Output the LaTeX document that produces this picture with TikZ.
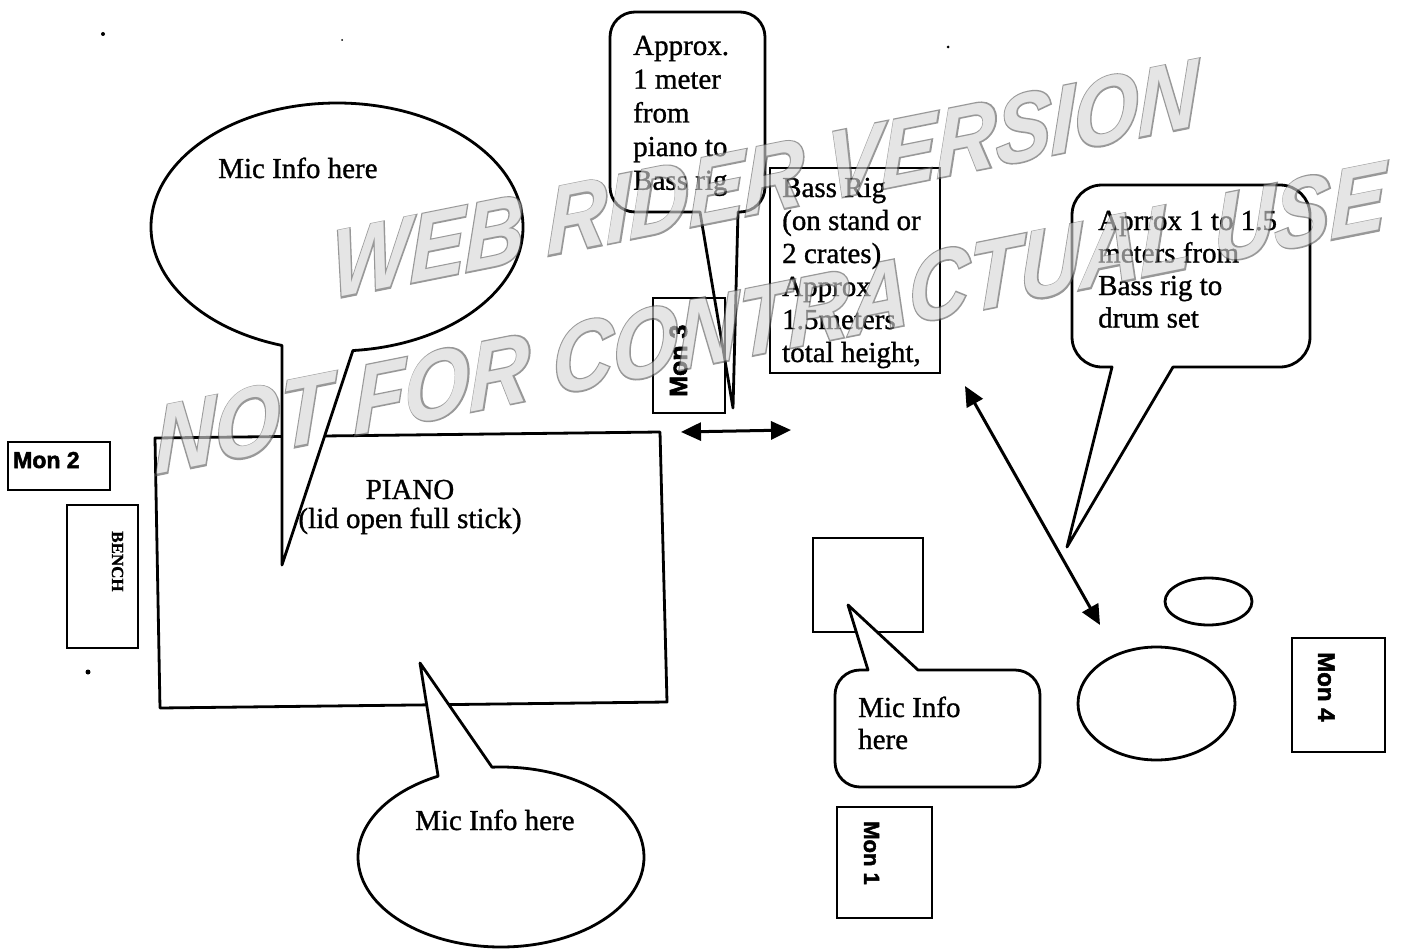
\documentclass[tikz,border=0pt]{standalone}
\usepackage{fontspec}
\setmainfont{Liberation Serif}[FakeBold=1]
\newfontfamily\monfont{Liberation Sans Bold}[FakeBold=2.2]
\newfontfamily\wmfont{Liberation Sans Bold Italic}
\newfontfamily\wmfontb{Liberation Sans Bold Italic}[FakeBold=3]
\newfontfamily\benchfont{Liberation Serif Bold}[FakeBold=1]
\usetikzlibrary{shapes.geometric,arrows.meta}
\definecolor{wmdark}{gray}{0.35}
\definecolor{wmlight}{gray}{0.84}
\newcommand\mlL[1]{\begin{tabular}[t]{@{}l@{}}#1\end{tabular}}
\newcommand\mlC[1]{\begin{tabular}[t]{@{}c@{}}#1\end{tabular}}
\tikzset{
  ln/.style={line width=2.8pt, line join=round},
  bub/.style={ln, draw, fill=white},
  box/.style={draw, line width=2.8pt, rectangle, inner sep=0pt},
  txt/.style={inner sep=0pt, anchor=base west, font=\fontsize{29}{33.5}\selectfont},
  mon/.style={inner sep=0pt, anchor=base west},
  dbl/.style={line width=3pt, {Triangle[length=20pt,width=18pt]}-{Triangle[length=20pt,width=18pt]}},
  wm/.style={inner sep=0pt, anchor=base west, cm={0.85,0.17,0,1,(0,0)}},
}
\begin{document}
\begin{tikzpicture}[x=1pt,y=-1pt]
\useasboundingbox (0,0) rectangle (1408,950);
\fill[white] (0,0) rectangle (1408,950);

% specks
\fill (103,34) circle[radius=2];
\fill (342,40) circle[radius=1];
\fill (948,47) circle[radius=1.5];
\fill (88,672) circle[radius=2.5];

% piano
\draw[ln] (155,438) -- (660,432) -- (667,702) -- (160,708) -- cycle;
\node[txt, anchor=base] (piano) at (410,499) {\mlC{PIANO\\[-4.5pt](lid open full stick)}};

% upper mic bubble
\draw[bub] (337,227) ++(85.1:186 and 124) arc[start angle=85.1, end angle=-252.8, x radius=186, y radius=124] -- (282,565) -- cycle;
\node[txt] (mic1) at (218,178) {Mic Info here};

% lower mic bubble
\draw[bub] (501,857) ++(-93.6:143 and 90) arc[start angle=-93.6, end angle=243.9, x radius=143, y radius=90] -- (420,663) -- cycle;
\node[txt] (mic2) at (415,830) {Mic Info here};

% bubble: approx 1 meter
\draw[bub] (738,212) -- (740,212) arc[start angle=90, end angle=0, radius=25] -- (765,37) arc[start angle=0, end angle=-90, radius=25] -- (635,12) arc[start angle=-90, end angle=-180, radius=25] -- (610,187) arc[start angle=180, end angle=90, radius=25] -- (700,212) -- (733,408) -- cycle;
\node[txt, font=\fontsize{29}{33.7}\selectfont] (approx1) at (633,55) {\mlL{Approx.\\1 meter\\from\\piano to\\Bass rig}};

% Mon 3
\node[box, minimum width=72, minimum height=115] (mon3) at (689,355.5) {};
\node[mon, rotate=90, font=\monfont\fontsize{25}{25}\selectfont] (mon3t) at (687,397) {Mon 3};

% Bass rig
\node[box, minimum width=170, minimum height=205] (bass) at (855,270.5) {};
\node[txt, font=\fontsize{29}{33}\selectfont] (basst) at (782,197) {\mlL{Bass Rig\\(on stand or\\2 crates)\\Approx\\1.5meters\\total height,}};

% horizontal arrow
\coordinate (h1) at (681,432);
\coordinate (h2) at (791,430);
\draw[dbl] (h1) -- (h2);

% Mon 2 and bench
\node[box, minimum width=102, minimum height=48] (mon2) at (59,466) {};
\node[mon, font=\monfont\fontsize{23}{23}\selectfont] (mon2t) at (13,468) {Mon 2};
\node[box, minimum width=71, minimum height=143] (bench) at (102.5,576.5) {};
\node[mon, rotate=-90, font=\benchfont\fontsize{17}{17}\selectfont] (bencht) at (112,531) {BENCH};

% mic stand square and bubble
\node[box, minimum width=110, minimum height=94] (stand) at (868,585) {};
\draw[bub] (918,670) -- (1015,670) arc[start angle=-90, end angle=0, radius=25] -- (1040,762) arc[start angle=0, end angle=90, radius=25] -- (860,787) arc[start angle=90, end angle=180, radius=25] -- (835,695) arc[start angle=180, end angle=270, radius=25] -- (868,670) -- (848,605) -- cycle;
\node[txt, font=\fontsize{29}{32}\selectfont] (mic3) at (858,717) {\mlL{Mic Info\\here}};

% Mon 1
\node[box, minimum width=95, minimum height=111] (mon1) at (884.5,862.5) {};
\node[mon, rotate=-90, font=\monfont\fontsize{22}{22}\selectfont] (mon1t) at (864,821) {Mon 1};

% drums
\node[draw, line width=2.8pt, ellipse, minimum width=87, minimum height=47, inner sep=0pt] (tom) at (1208.5,601.5) {};
\node[draw, line width=2.8pt, ellipse, minimum width=157, minimum height=113, inner sep=0pt] (kick) at (1156.5,703.5) {};

% Mon 4
\node[box, minimum width=93, minimum height=114] (mon4) at (1338.5,695) {};
\node[mon, rotate=-90, font=\monfont\fontsize{24}{24}\selectfont] (mon4t) at (1318,652) {Mon 4};

% diagonal arrow
\coordinate (d1) at (965,386);
\coordinate (d2) at (1100,625);
\draw[dbl] (d1) -- (d2);

% bubble: bass rig to drum set
\draw[bub] (1173,367) -- (1280,367) arc[start angle=90, end angle=0, radius=30] -- (1310,215) arc[start angle=0, end angle=-90, radius=30] -- (1102,185) arc[start angle=-90, end angle=-180, radius=30] -- (1072,337) arc[start angle=180, end angle=90, radius=30] -- (1112,367) -- (1067,547) -- cycle;
\node[txt, font=\fontsize{29}{32.5}\selectfont] (approx2) at (1098,230) {\mlL{Aprrox 1 to 1.5\\meters from\\Bass rig to\\drum set}};

% watermark
\begin{scope}[transparency group, opacity=0.62]
\node[wm, text=wmdark, font=\wmfontb\fontsize{97}{97}\selectfont] (wm1o) at (332,299) {WEB RIDER VERSION};
\node[wm, text=wmlight, font=\wmfont\fontsize{97}{97}\selectfont] (wm1) at (332,299) {WEB RIDER VERSION};
\node[wm, text=wmdark, font=\wmfontb\fontsize{98}{98}\selectfont] (wm2o) at (155,475) {NOT FOR CONTRACTUAL USE};
\node[wm, text=wmlight, font=\wmfont\fontsize{98}{98}\selectfont] (wm2) at (155,475) {NOT FOR CONTRACTUAL USE};
\end{scope}
\end{tikzpicture}
\end{document}
